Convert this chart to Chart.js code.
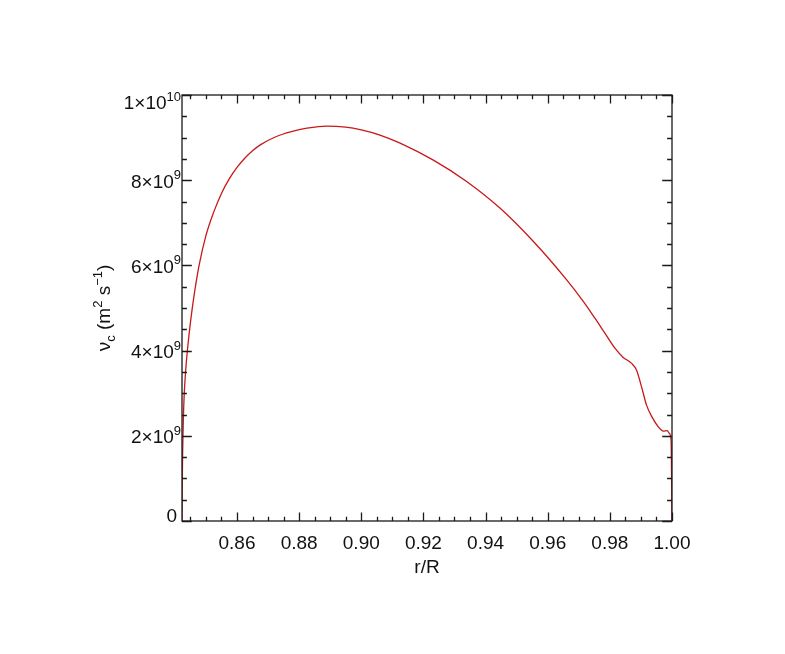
<!DOCTYPE html>
<html>
<head>
<meta charset="utf-8">
<script src="https://cdn.jsdelivr.net/npm/chart.js@4/dist/chart.umd.min.js"></script>
<style>
  html, body { margin: 0; padding: 0; background: #fff; }
  canvas { display: block; }
</style>
</head>
<body>
<canvas id="c" width="785" height="654"></canvas>
<script>
// radius r/R and convective viscosity (m^2 s^-1)
const rValues = [0.8423, 0.8424, 0.8425, 0.8427, 0.8430, 0.8435, 0.8441, 0.8450, 0.8462, 0.8478,
  0.8500, 0.8525, 0.8550, 0.8575, 0.8600, 0.8625, 0.8650, 0.8675, 0.8725, 0.8775,
  0.8825, 0.8889, 0.8950, 0.9000, 0.9060, 0.9125, 0.9232, 0.9339, 0.9447, 0.9554,
  0.9661, 0.9715, 0.9752, 0.9784, 0.9817, 0.9843, 0.9870, 0.9886, 0.9902, 0.9918,
  0.9935, 0.9956, 0.9972, 0.9985, 0.9991, 0.9997, 1.0000];
const nuValues = [0, 1.0e9, 1.6e9, 2.3e9, 2.95e9, 3.55e9, 4.05e9, 4.65e9, 5.3e9, 6.0e9,
  6.7e9, 7.25e9, 7.69e9, 8.03e9, 8.3e9, 8.515e9, 8.69e9, 8.83e9, 9.02e9, 9.14e9,
  9.22e9, 9.27e9, 9.245e9, 9.18e9, 9.06e9, 8.87e9, 8.47e9, 7.97e9, 7.34e9, 6.56e9,
  5.66e9, 5.15e9, 4.76e9, 4.41e9, 4.05e9, 3.84e9, 3.70e9, 3.54e9, 3.15e9, 2.72e9,
  2.45e9, 2.21e9, 2.11e9, 2.12e9, 2.06e9, 1.9e9, 0];

const xTickValues = [0.86, 0.88, 0.90, 0.92, 0.94, 0.96, 0.98, 1.00];
const xTickText = ['0.86', '0.88', '0.90', '0.92', '0.94', '0.96', '0.98', '1.00'];
const yTickValues = [0, 2e9, 4e9, 6e9, 8e9, 1e10];
const yTickText = ['0', '2\u00d710', '4\u00d710', '6\u00d710', '8\u00d710', '1\u00d710'];
const yTickExp = ['', '9', '9', '9', '9', '10'];
const xMinorStep = 0.005;
const yMinorStep = 5e8;

const FONT = '"Liberation Sans", Arial, Helvetica, sans-serif';

// draw text with sub/superscript pieces, starting at x (left) on baseline y
function richWidth(ctx, parts) {
  let w = 0;
  parts.forEach(p => {
    ctx.font = (p.sup || p.sub ? 13 : 19) + 'px ' + FONT;
    w += ctx.measureText(p.t).width;
  });
  return w;
}
function drawRich(ctx, parts, x, y) {
  parts.forEach(p => {
    ctx.font = (p.sup || p.sub ? 13 : 19) + 'px ' + FONT;
    const dy = p.sup ? -8.5 : (p.sub ? 5 : 0);
    ctx.fillText(p.t, x, y + dy);
    x += ctx.measureText(p.t).width;
  });
}

const idlAxes = {
  id: 'idlAxes',
  afterDraw(chart) {
    const { ctx, chartArea: a, scales: { x, y } } = chart;
    ctx.save();
    ctx.strokeStyle = '#1a1a1a';
    ctx.fillStyle = '#111';
    ctx.lineWidth = 1.3;
    ctx.strokeRect(a.left, a.top, a.right - a.left, a.bottom - a.top);

    const xLen = 0.02 * (a.bottom - a.top);
    const yLen = 0.02 * (a.right - a.left);
    ctx.beginPath();
    // x ticks, bottom and top, pointing inward
    for (let v = Math.ceil(x.min / xMinorStep - 1e-6) * xMinorStep; v <= x.max + 1e-9; v += xMinorStep) {
      const major = xTickValues.some(t => Math.abs(t - v) < 1e-6);
      const len = major ? xLen : xLen / 2;
      const px = Math.round(x.getPixelForValue(v)) + 0.5;
      ctx.moveTo(px, a.bottom); ctx.lineTo(px, a.bottom - len);
      ctx.moveTo(px, a.top); ctx.lineTo(px, a.top + len);
    }
    // y ticks, left and right
    for (let v = 0; v <= y.max + 1; v += yMinorStep) {
      const major = yTickValues.some(t => Math.abs(t - v) < 1);
      const len = major ? yLen : yLen / 2;
      const py = Math.round(y.getPixelForValue(v)) + 0.5;
      ctx.moveTo(a.left, py); ctx.lineTo(a.left + len, py);
      ctx.moveTo(a.right, py); ctx.lineTo(a.right - len, py);
    }
    ctx.stroke();

    // x tick labels
    ctx.font = '19px ' + FONT;
    ctx.textAlign = 'center';
    ctx.textBaseline = 'alphabetic';
    xTickValues.forEach((v, i) => {
      ctx.fillText(xTickText[i], x.getPixelForValue(v), a.bottom + 27.5);
    });

    // y tick labels with exponents, kept inside the axis range
    ctx.textAlign = 'left';
    yTickValues.forEach((v, i) => {
      const parts = [{ t: yTickText[i] }];
      if (yTickExp[i]) parts.push({ t: yTickExp[i], sup: true });
      const w = richWidth(ctx, parts);
      let base = y.getPixelForValue(v) + 7.5;
      const top = base - (yTickExp[i] ? 16.5 : 14);
      if (top < a.top - 2.3) base += (a.top - 2.3 - top);
      if (base > a.bottom + 0.7) base = a.bottom + 0.7;
      const right = yTickExp[i] ? a.left - 1 : a.left - 5;
      drawRich(ctx, parts, right - w, base);
    });

    // axis titles
    ctx.font = '19px ' + FONT;
    ctx.textAlign = 'center';
    ctx.fillText('r/R', (a.left + a.right) / 2, a.bottom + 52);

    const yTitle = [{ t: '\u03bd' }, { t: 'c', sub: true }, { t: ' (m' }, { t: '2', sup: true },
      { t: ' s' }, { t: '\u22121', sup: true }, { t: ')' }];
    ctx.textAlign = 'left';
    ctx.translate(110, (a.top + a.bottom) / 2);
    ctx.rotate(-Math.PI / 2);
    drawRich(ctx, yTitle, -richWidth(ctx, yTitle) / 2, 0);
    ctx.restore();
  }
};

new Chart(document.getElementById('c'), {
  type: 'line',
  data: {
    datasets: [{
      data: rValues.map((r, i) => ({ x: r, y: nuValues[i] })),
      borderColor: '#c81818',
      borderWidth: 1.3,
      pointRadius: 0,
      cubicInterpolationMode: 'monotone',
      fill: false
    }]
  },
  options: {
    responsive: false,
    animation: false,
    devicePixelRatio: 1,
    layout: { padding: { left: 182, right: 113, top: 95, bottom: 133 } },
    plugins: { legend: { display: false }, tooltip: { enabled: false } },
    scales: {
      x: { type: 'linear', min: 0.8423, max: 1.0, display: false },
      y: { type: 'linear', min: 0, max: 1e10, display: false }
    }
  },
  plugins: [idlAxes]
});
</script>
</body>
</html>
